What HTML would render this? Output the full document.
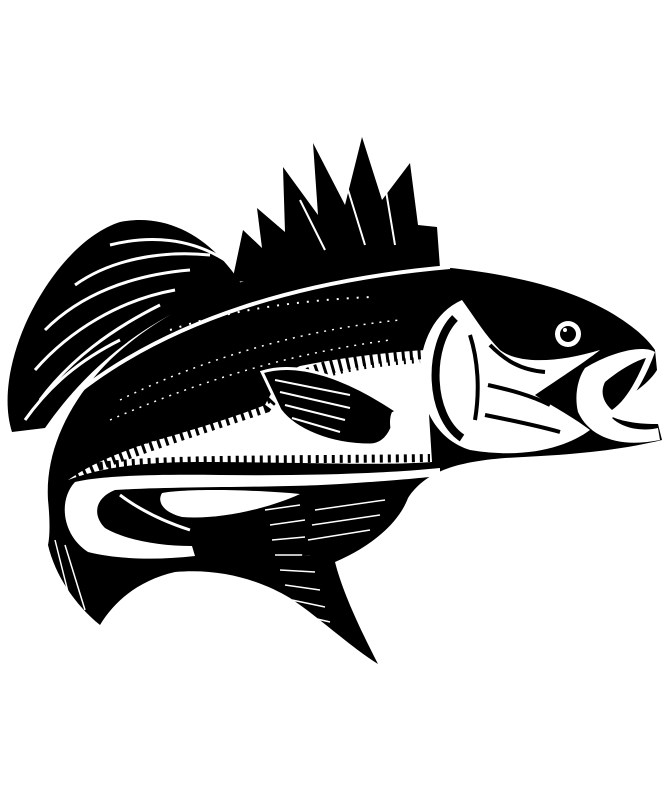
<!DOCTYPE html>
<html><head><meta charset="utf-8"><style>html,body{margin:0;padding:0;background:#fff}svg{display:block}</style></head>
<body>
<svg width="667" height="800" viewBox="0 0 667 800" xmlns="http://www.w3.org/2000/svg">
<!-- left soft fin -->
<path d="M 245 290 C 215 240 170 212 120 222 C 80 235 45 280 25 325 C 10 360 2 400 12 432 L 45 428 C 75 385 115 345 170 315 Z" fill="#000"/>
<g stroke="#fff" stroke-width="3" fill="none">
<path d="M 40 400 C 70 360 110 330 160 305"/>
<path d="M 35 370 C 70 330 120 300 175 290"/>
<path d="M 45 330 C 80 295 130 275 190 270"/>
<path d="M 75 285 C 110 260 160 250 210 255"/>
<path d="M 110 245 C 150 235 190 238 225 260"/>
<path d="M 25 420 C 50 385 80 360 120 340"/>
</g>
<!-- dorsal spiny fin -->
<path d="M 232 282 L 243 230 L 262 248 L 257 208 L 285 232 L 283 167 L 318 215 L 313 143 L 345 205 L 362 137 L 382 200 L 410 163 L 418 225 L 437 227 L 440 268 Z" fill="#000"/>
<g stroke="#fff" stroke-width="2"><line x1="300" y1="200" x2="325" y2="250"/><line x1="345" y1="180" x2="365" y2="245"/><line x1="385" y1="185" x2="395" y2="245"/></g>
<!-- body -->
<path d="M 655 350 C 640 328 600 300 540 284 C 480 268 400 260 320 265 C 240 272 160 312 110 360 C 70 400 45 450 48 500 C 50 520 50 535 48 545 C 55 575 75 605 100 625 C 115 600 140 580 175 572 C 220 568 260 580 290 598 C 320 618 348 645 378 664 C 358 625 342 590 335 562 C 368 548 398 525 408 498 C 425 472 455 462 505 458 C 565 455 612 452 662 440 L 658 424 C 632 424 612 420 602 410 C 625 400 648 385 657 370 Z" fill="#000"/>
<!-- white belly -->
<path d="M 68 480 C 90 465 110 456 150 442 C 200 428 240 415 265 405 C 275 385 285 372 300 366 C 350 356 395 352 425 350 L 432 462 C 380 466 300 462 200 462 C 130 462 95 470 68 480 Z" fill="#fff"/>
<path d="M 75 474 C 120 452 200 428 265 406 C 290 370 360 356 425 352" stroke="#000" stroke-width="14" stroke-dasharray="3 5" fill="none"/>
<path d="M 100 456 C 150 438 220 420 275 398 C 300 376 360 364 420 360" stroke="#000" stroke-width="6" stroke-dasharray="2 6" fill="none"/>
<path d="M 100 466 C 160 458 300 460 430 458" stroke="#000" stroke-width="8" stroke-dasharray="3 5" fill="none"/>
<!-- lateral lines -->
<path d="M 77 393 C 170 320 300 280 450 267" stroke="#fff" stroke-width="4" fill="none"/>
<path d="M 170 330 C 230 310 300 300 373 297" stroke="#fff" stroke-width="2" fill="none" stroke-dasharray="2 8"/>
<g stroke="#fff" stroke-width="1.5" stroke-dasharray="2 6" fill="none">
<path d="M 120 400 C 200 360 300 330 400 320"/>
<path d="M 110 420 C 190 385 280 355 390 340"/>
</g>
<!-- white C band and hole -->
<path d="M 440 468 C 380 474 300 476 220 475 C 150 474 100 476 75 482 C 58 500 62 535 88 552 C 120 560 160 560 195 556 L 192 546 C 160 546 125 540 105 528 C 92 515 95 498 115 490 C 180 486 280 488 340 484 C 390 481 420 478 440 476 Z" fill="#fff"/>
<path d="M 162 493 C 190 488 260 490 300 494 C 270 508 220 520 182 517 C 162 512 157 501 162 493 Z" fill="#fff"/>
<path d="M 120 495 C 140 510 165 522 190 530" stroke="#fff" stroke-width="3" fill="none"/>
<!-- tail streaks -->
<g stroke="#fff" stroke-width="1.5">
<line x1="265" y1="510" x2="300" y2="505"/><line x1="270" y1="525" x2="305" y2="520"/><line x1="272" y1="540" x2="305" y2="537"/><line x1="275" y1="555" x2="310" y2="555"/>
<line x1="280" y1="570" x2="315" y2="572"/><line x1="285" y1="585" x2="320" y2="590"/><line x1="292" y1="600" x2="325" y2="607"/><line x1="300" y1="615" x2="330" y2="622"/><line x1="310" y1="630" x2="340" y2="638"/>
<line x1="55" y1="540" x2="70" y2="600"/><line x1="65" y1="545" x2="85" y2="610"/>
</g>
<!-- lower fin -->
<path d="M 312 495 C 340 490 380 488 410 488 C 400 520 370 545 330 555 L 302 556 Z" fill="#000"/>
<g stroke="#fff" stroke-width="1.5"><line x1="315" y1="510" x2="385" y2="500"/><line x1="312" y1="525" x2="380" y2="515"/><line x1="308" y1="540" x2="370" y2="530"/></g>
<!-- pectoral fin -->
<path d="M 262 372 C 300 360 350 380 395 410 C 395 430 385 445 370 445 C 330 445 295 430 280 410 Z" fill="#000" stroke="#fff" stroke-width="3"/>
<g stroke="#fff" stroke-width="2"><line x1="275" y1="380" x2="350" y2="395"/><line x1="280" y1="392" x2="350" y2="408"/><line x1="285" y1="405" x2="345" y2="420"/><line x1="292" y1="418" x2="340" y2="432"/></g>
<path d="M 392 412 C 405 410 408 430 398 440 C 390 438 388 420 392 412 Z" fill="#fff"/>
<!-- gill area -->
<path d="M 462 300 C 405 325 405 430 470 450 C 530 460 570 445 590 430 C 570 415 550 405 535 395 C 560 378 585 362 600 350 C 560 362 520 365 500 350 C 485 335 475 318 462 300 Z" fill="#fff"/>
<path d="M 455 318 C 428 345 428 415 462 438" stroke="#000" stroke-width="8" fill="none"/>
<g stroke="#000" stroke-width="4" fill="none">
<path d="M 470 335 C 478 360 480 390 475 420"/>
<path d="M 490 345 C 505 360 520 370 545 372"/>
<path d="M 488 385 C 510 390 530 395 550 405"/>
<path d="M 485 415 C 510 420 535 425 560 432"/>
</g>
<!-- mouth -->
<path d="M 585 368 C 615 350 645 345 655 352 C 645 380 630 405 612 418 C 622 428 642 432 658 428 L 660 440 C 620 448 590 438 578 412 C 574 395 578 378 585 368 Z" fill="#fff"/>
<path d="M 605 382 C 622 368 638 360 646 358 C 636 382 626 400 612 410 C 603 402 600 392 605 382 Z" fill="#000"/>
<!-- eye -->
<circle cx="568" cy="334" r="13" fill="#fff"/><circle cx="568" cy="334" r="8" fill="#000"/><circle cx="565" cy="330" r="2" fill="#fff"/>
</svg>
</body></html>
